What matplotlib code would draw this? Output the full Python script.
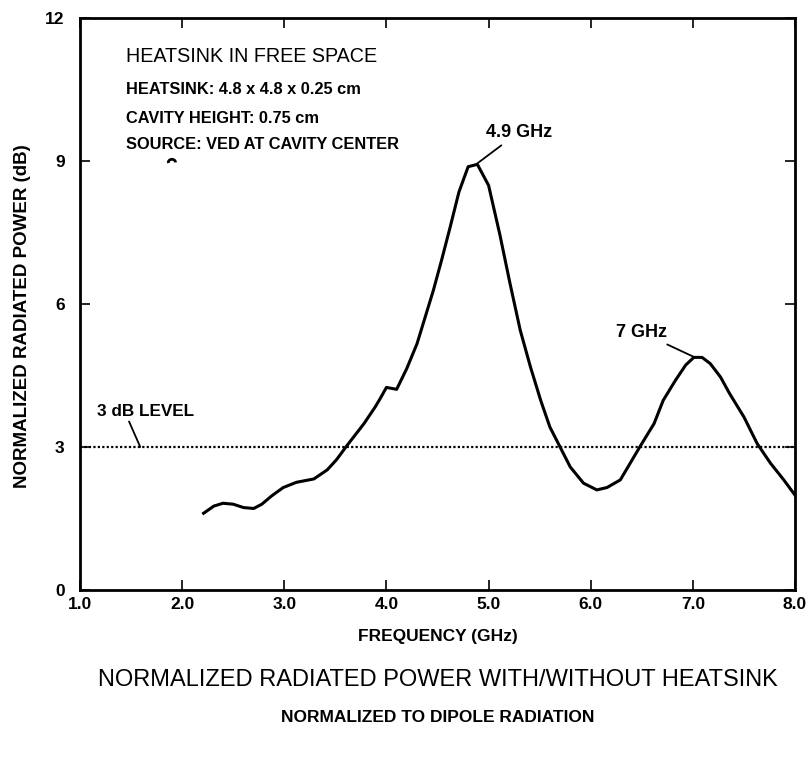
import numpy as np
import matplotlib
matplotlib.use("Agg")
import matplotlib.pyplot as plt
from matplotlib.patches import Arc

plt.rcParams['font.family'] = ['Liberation Sans', 'DejaVu Sans']

# frequency (GHz) vs normalized radiated power (dB)
freq = [2.21, 2.31, 2.40, 2.50, 2.60, 2.70, 2.78, 2.88, 2.99, 3.12, 3.29,
        3.42, 3.51, 3.61, 3.78, 3.89, 3.94, 4.00, 4.10, 4.20, 4.30, 4.36,
        4.46, 4.54, 4.62, 4.71, 4.80, 4.89, 5.00, 5.11, 5.21, 5.31, 5.41,
        5.51, 5.60, 5.70, 5.80, 5.93, 6.06, 6.16, 6.29, 6.48, 6.62, 6.71,
        6.83, 6.93, 7.01, 7.09, 7.17, 7.27, 7.36, 7.50, 7.63, 7.76, 7.89,
        8.00]
power = [1.61, 1.76, 1.82, 1.80, 1.73, 1.71, 1.80, 1.98, 2.15, 2.26, 2.33,
         2.52, 2.73, 3.02, 3.49, 3.84, 4.02, 4.25, 4.21, 4.65, 5.17, 5.59,
         6.29, 6.92, 7.58, 8.35, 8.88, 8.93, 8.49, 7.46, 6.43, 5.45, 4.68,
         3.98, 3.42, 3.00, 2.58, 2.24, 2.10, 2.15, 2.31, 3.00, 3.49, 3.98,
         4.40, 4.72, 4.88, 4.88, 4.75, 4.47, 4.12, 3.63, 3.07, 2.66, 2.31,
         1.99]
level_3db = 3.0
xticks = [1.0, 2.0, 3.0, 4.0, 5.0, 6.0, 7.0, 8.0]
yticks = [0, 3, 6, 9, 12]

W, H = 807, 757
fig = plt.figure(figsize=(W / 100, H / 100), dpi=100)
ax = fig.add_axes([80 / W, 1 - 590 / H, 715 / W, 572 / H])

ax.plot(freq, power, color='black', lw=2.2, solid_joinstyle='round')
ax.axhline(level_3db, color='black', lw=1.6, ls=(0, (1, 1)))

ax.set_xlim(1.0, 8.0)
ax.set_ylim(0, 12)
ax.set_xticks(xticks)
ax.set_xticklabels(['%.1f' % t for t in xticks])
ax.set_yticks(yticks)
ax.tick_params(direction='in', length=7, width=1.2, top=True, right=True,
               labelsize=12.5, pad=5)
ax.tick_params(axis='y', pad=11)
for lab in ax.get_xticklabels() + ax.get_yticklabels():
    lab.set_fontweight('bold')
for s in ax.spines.values():
    s.set_linewidth(2.0)

ax.set_xlabel('FREQUENCY (GHz)', fontsize=12.5, fontweight='bold')
ax.xaxis.set_label_coords(0.5, -0.068)
ax.set_ylabel('NORMALIZED RADIATED POWER (dB)', fontsize=13.5,
              fontweight='bold', va='center')
ax.yaxis.set_label_coords(-0.08, 0.479)

# text block in the upper left
ax.text(1.45, 11.2, 'HEATSINK IN FREE SPACE', fontsize=14.2, va='center')
ax.text(1.45, 10.5, 'HEATSINK: 4.8 x 4.8 x 0.25 cm', fontsize=11.8,
        fontweight='bold', va='center')
ax.text(1.45, 9.9, 'CAVITY HEIGHT: 0.75 cm', fontsize=11.8,
        fontweight='bold', va='center')
ax.text(1.45, 9.35, 'SOURCE: VED AT CAVITY CENTER', fontsize=11.8,
        fontweight='bold', va='center')
ax.add_patch(Arc((1.90, 8.97), 0.07, 0.13, theta1=0, theta2=200, lw=2.0))

# annotations
ax.annotate('4.9 GHz', xy=(4.89, 8.95), xytext=(4.97, 9.6),
            fontsize=13, fontweight='bold', va='center', ha='left',
            arrowprops=dict(arrowstyle='-', lw=1.3, color='black',
                            shrinkA=2, shrinkB=0))
ax.annotate('7 GHz', xy=(7.01, 4.89), xytext=(6.75, 5.40),
            fontsize=13, fontweight='bold', va='center', ha='right',
            arrowprops=dict(arrowstyle='-', lw=1.3, color='black',
                            shrinkA=1, shrinkB=0))
ax.annotate('3 dB LEVEL', xy=(1.59, 3.0), xytext=(1.17, 3.75),
            fontsize=12.3, fontweight='bold', va='center', ha='left',
            arrowprops=dict(arrowstyle='-', lw=1.3, color='black',
                            shrinkA=0, shrinkB=0,
                            relpos=(0.3, 0.2)))

fig.text(438 / W, 1 - 680 / H,
         'NORMALIZED RADIATED POWER WITH/WITHOUT HEATSINK',
         fontsize=17, ha='center', va='center')
fig.text(438 / W, 1 - 718 / H, 'NORMALIZED TO DIPOLE RADIATION',
         fontsize=12.5, fontweight='bold', ha='center', va='center')

fig.savefig('out.png', dpi=100)
